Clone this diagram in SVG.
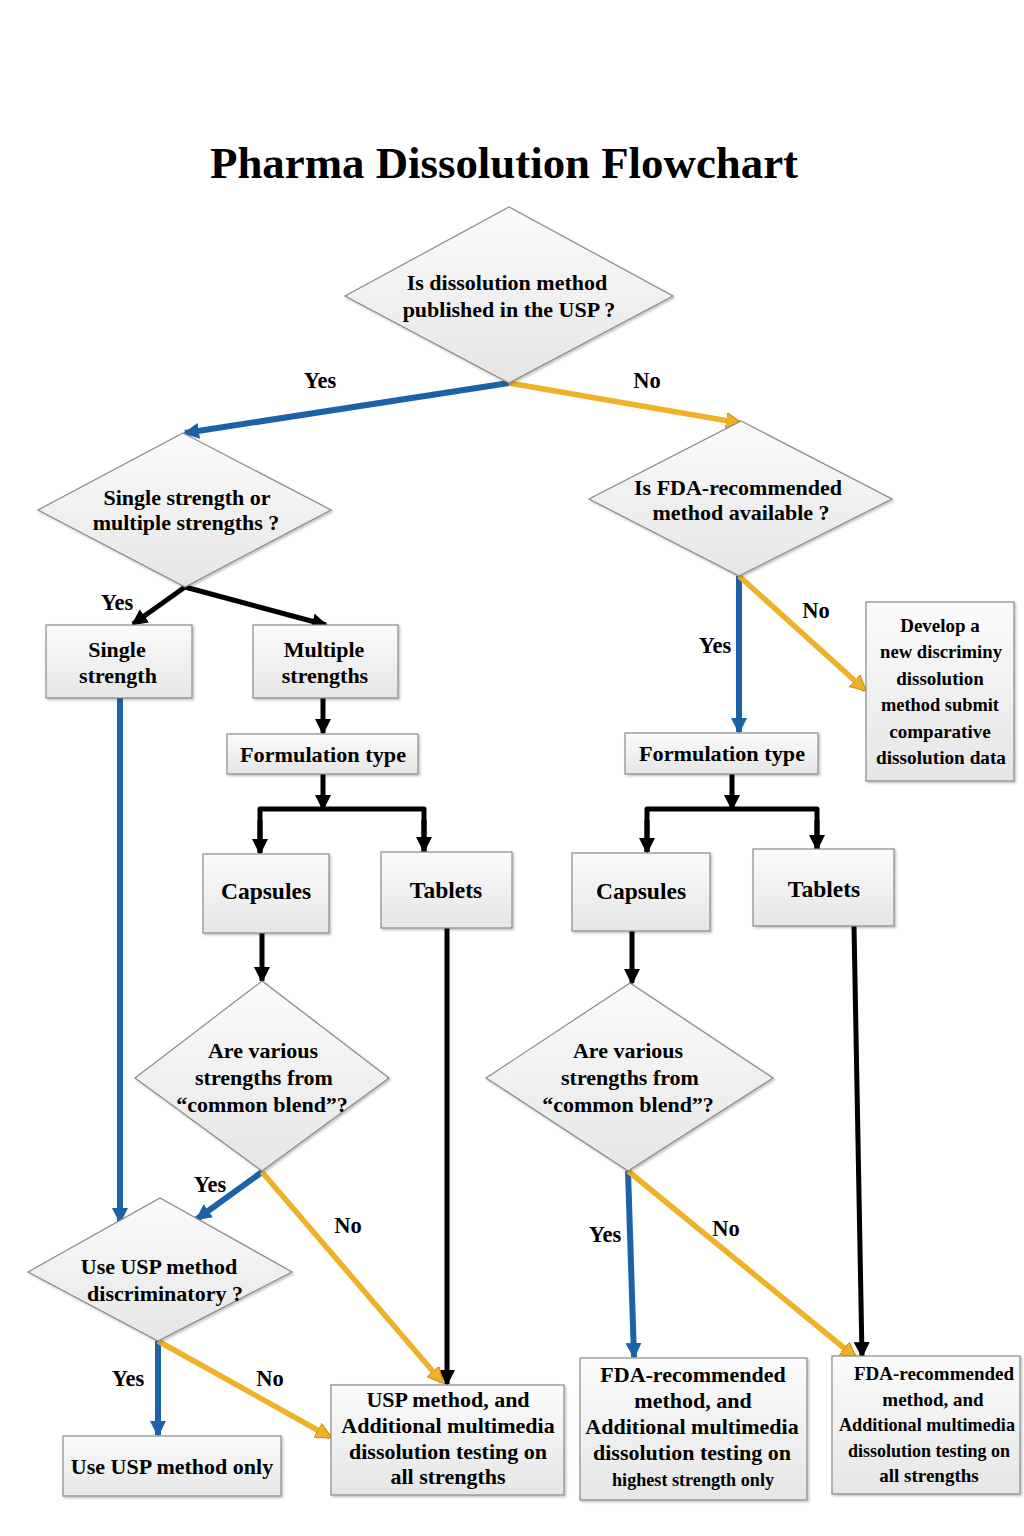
<svg xmlns="http://www.w3.org/2000/svg" width="1024" height="1536" viewBox="0 0 1024 1536">
<style>
.t{font-family:"Liberation Serif","Times New Roman",serif;font-weight:bold;fill:#000;text-anchor:middle;}
.n{font-size:22px;}
.b{font-size:23.5px;}
.s{font-size:19px;}
.lbl{font-family:"Liberation Serif","Times New Roman",serif;font-weight:bold;font-size:22.5px;fill:#000;text-anchor:middle;}
.shape{fill:url(#g);stroke:#8a8a8a;stroke-width:1.2;filter:url(#sh);}
.blue{stroke:#1c62a6;stroke-width:6;fill:none;}
.yel{stroke:#f0b128;stroke-width:5.5;fill:none;}
.blk{stroke:#000;stroke-width:5;fill:none;}
</style>
<defs>
<linearGradient id="g" x1="0" y1="0" x2="0" y2="1">
<stop offset="0" stop-color="#fbfbfb"/>
<stop offset="1" stop-color="#e6e6e6"/>
</linearGradient>
<filter id="sh" x="-10%" y="-10%" width="120%" height="120%">
<feDropShadow dx="1.5" dy="1.5" stdDeviation="1.2" flood-color="#000" flood-opacity="0.25"/>
</filter>
<marker id="mb" markerUnits="userSpaceOnUse" markerWidth="20" markerHeight="20" refX="14" refY="8" orient="auto"><path d="M0,0 L16,8 L0,16 Z" fill="#1c62a6"/></marker>
<marker id="my" markerUnits="userSpaceOnUse" markerWidth="20" markerHeight="20" refX="14" refY="8" orient="auto"><path d="M0,0 L16,8 L0,16 Z" fill="#f0b128" stroke="#c98a12" stroke-width="1"/></marker>
<marker id="mk" markerUnits="userSpaceOnUse" markerWidth="20" markerHeight="20" refX="14" refY="8" orient="auto"><path d="M0,0 L16,8 L0,16 Z" fill="#000"/></marker>
</defs>
<rect width="1024" height="1536" fill="#fff"/>
<text x="504" y="178" class="t" font-size="45" textLength="588" lengthAdjust="spacingAndGlyphs">Pharma Dissolution Flowchart</text>

<g id="connectors">
<line class="blue" x1="509" y1="383" x2="185" y2="433" marker-end="url(#mb)"/>
<line class="yel" x1="509" y1="383" x2="740" y2="423" marker-end="url(#my)"/>
<line class="blk" x1="185" y1="587" x2="133" y2="624" marker-end="url(#mk)"/>
<line class="blk" x1="185" y1="587" x2="326" y2="625" marker-end="url(#mk)"/>
<line class="blue" x1="120" y1="698" x2="120" y2="1222" marker-end="url(#mb)"/>
<line class="blk" x1="323" y1="698" x2="323" y2="733" marker-end="url(#mk)"/>
<line class="blk" x1="323" y1="774" x2="323" y2="809" marker-end="url(#mk)"/>
<polyline class="blk" points="260,852 260,809 424,809 424,852" stroke-linejoin="round"/>
<line class="blk" x1="260" y1="820" x2="260" y2="853" marker-end="url(#mk)"/>
<line class="blk" x1="424" y1="820" x2="424" y2="851" marker-end="url(#mk)"/>
<line class="blk" x1="262" y1="933" x2="262" y2="981" marker-end="url(#mk)"/>
<line class="blk" x1="447" y1="928" x2="447" y2="1384" marker-end="url(#mk)"/>
<line class="blue" x1="262" y1="1172" x2="197" y2="1219" marker-end="url(#mb)"/>
<line class="yel" x1="262" y1="1172" x2="442" y2="1382" marker-end="url(#my)"/>
<line class="blue" x1="158" y1="1341" x2="158" y2="1435" marker-end="url(#mb)"/>
<line class="yel" x1="158" y1="1341" x2="330" y2="1437" marker-end="url(#my)"/>
<line class="blue" x1="739" y1="576" x2="739" y2="732" marker-end="url(#mb)"/>
<line class="yel" x1="739" y1="576" x2="865" y2="690" marker-end="url(#my)"/>
<line class="blk" x1="732" y1="774" x2="732" y2="809" marker-end="url(#mk)"/>
<polyline class="blk" points="647,852 647,809 817,809 817,850" stroke-linejoin="round"/>
<line class="blk" x1="647" y1="820" x2="647" y2="852" marker-end="url(#mk)"/>
<line class="blk" x1="817" y1="820" x2="817" y2="849" marker-end="url(#mk)"/>
<line class="blk" x1="632" y1="931" x2="632" y2="983" marker-end="url(#mk)"/>
<line class="blk" x1="854" y1="926" x2="862" y2="1356" marker-end="url(#mk)"/>
<line class="blue" x1="628" y1="1171" x2="634" y2="1357" marker-end="url(#mb)"/>
<line class="yel" x1="628" y1="1171" x2="855" y2="1357" marker-end="url(#my)"/>
<text class="lbl" x="320" y="388">Yes</text>
<text class="lbl" x="647" y="388">No</text>
<text class="lbl" x="117" y="610">Yes</text>
<text class="lbl" x="816" y="618">No</text>
<text class="lbl" x="715" y="653">Yes</text>
<text class="lbl" x="210" y="1192">Yes</text>
<text class="lbl" x="348" y="1233">No</text>
<text class="lbl" x="128" y="1386">Yes</text>
<text class="lbl" x="270" y="1386">No</text>
<text class="lbl" x="605" y="1242">Yes</text>
<text class="lbl" x="726" y="1236">No</text>
</g>

<g id="d1"><polygon class="shape" points="509,207 673,296 509,383 345,296"/>
<text class="t n" x="507" y="290">Is dissolution method</text>
<text class="t n" x="509" y="317">published in the USP ?</text></g>

<g id="d2"><polygon class="shape" points="183,433 331,510 185,587 38,510"/>
<text class="t n" x="187" y="505">Single strength or</text>
<text class="t n" x="186" y="530">multiple strengths ?</text></g>

<g id="d3"><polygon class="shape" points="741,421 892,499 739,576 589,499"/>
<text class="t n" x="738" y="495">Is FDA-recommended</text>
<text class="t n" x="741" y="520">method available ?</text></g>

<g id="single"><rect class="shape" x="46" y="625" width="146" height="73"/>
<text class="t n" x="117" y="657">Single</text>
<text class="t n" x="118" y="683">strength</text></g>

<g id="multiple"><rect class="shape" x="253" y="625" width="145" height="73"/>
<text class="t n" x="324" y="657">Multiple</text>
<text class="t n" x="325" y="683">strengths</text></g>

<g id="form1"><rect class="shape" x="227" y="734" width="191" height="40"/>
<text class="t n" x="323" y="762" textLength="166" lengthAdjust="spacingAndGlyphs">Formulation type</text></g>

<g id="caps1"><rect class="shape" x="203" y="854" width="126" height="79"/>
<text class="t b" x="266" y="899">Capsules</text></g>

<g id="tabs1"><rect class="shape" x="381" y="852" width="131" height="76"/>
<text class="t b" x="446" y="898">Tablets</text></g>

<g id="d4"><polygon class="shape" points="262,981 389,1078 262,1171 135,1078"/>
<text class="t n" x="263" y="1058">Are various</text>
<text class="t n" x="264" y="1085">strengths from</text>
<text class="t n" x="262" y="1112">“common blend”?</text></g>

<g id="d5"><polygon class="shape" points="160,1198 292,1272 158,1341 28,1272"/>
<text class="t n" x="159" y="1274">Use USP method</text>
<text class="t n" x="165" y="1301">discriminatory ?</text></g>

<g id="onlyusp"><rect class="shape" x="63" y="1436" width="218" height="60"/>
<text class="t n" x="172" y="1474">Use USP method only</text></g>

<g id="uspall"><rect class="shape" x="331" y="1385" width="233" height="110"/>
<text class="t n" x="448" y="1407">USP method, and</text>
<text class="t n" x="448" y="1433">Additional multimedia</text>
<text class="t n" x="448" y="1459">dissolution testing on</text>
<text class="t n" x="448" y="1484">all strengths</text></g>

<g id="develop"><rect class="shape" x="866" y="602" width="148" height="179"/>
<text class="t s" x="940" y="632" font-size="20.5">Develop a</text>
<text class="t s" x="941" y="658" textLength="122" lengthAdjust="spacingAndGlyphs">new discriminy</text>
<text class="t s" x="940" y="685">dissolution</text>
<text class="t s" x="940" y="711" textLength="118" lengthAdjust="spacingAndGlyphs">method submit</text>
<text class="t s" x="940" y="738">comparative</text>
<text class="t s" x="941" y="764" textLength="130" lengthAdjust="spacingAndGlyphs">dissolution data</text></g>

<g id="form2"><rect class="shape" x="625" y="733" width="193" height="41"/>
<text class="t n" x="722" y="761" textLength="166" lengthAdjust="spacingAndGlyphs">Formulation type</text></g>

<g id="caps2"><rect class="shape" x="572" y="853" width="138" height="78"/>
<text class="t b" x="641" y="899">Capsules</text></g>

<g id="tabs2"><rect class="shape" x="753" y="849" width="141" height="77"/>
<text class="t b" x="824" y="897">Tablets</text></g>

<g id="d6"><polygon class="shape" points="630,983 773,1078 628,1171 486,1078"/>
<text class="t n" x="628" y="1058">Are various</text>
<text class="t n" x="630" y="1085">strengths from</text>
<text class="t n" x="628" y="1112">“common blend”?</text></g>

<g id="fda1"><rect class="shape" x="580" y="1358" width="227" height="142"/>
<text class="t n" x="693" y="1382">FDA-recommended</text>
<text class="t n" x="693" y="1408">method, and</text>
<text class="t n" x="692" y="1434">Additional multimedia</text>
<text class="t n" x="692" y="1460">dissolution testing on</text>
<text class="t s" x="693" y="1486" textLength="162" lengthAdjust="spacingAndGlyphs">highest strength only</text></g>

<g id="fda2"><rect class="shape" x="832" y="1356" width="188" height="138"/>
<text class="t s" x="934" y="1380">FDA-recommended</text>
<text class="t s" x="933" y="1406">method, and</text>
<text class="t s" x="927" y="1431" textLength="176" lengthAdjust="spacingAndGlyphs">Additional multimedia</text>
<text class="t s" x="929" y="1457" textLength="162" lengthAdjust="spacingAndGlyphs">dissolution testing on</text>
<text class="t s" x="929" y="1482">all strengths</text></g>
</svg>
